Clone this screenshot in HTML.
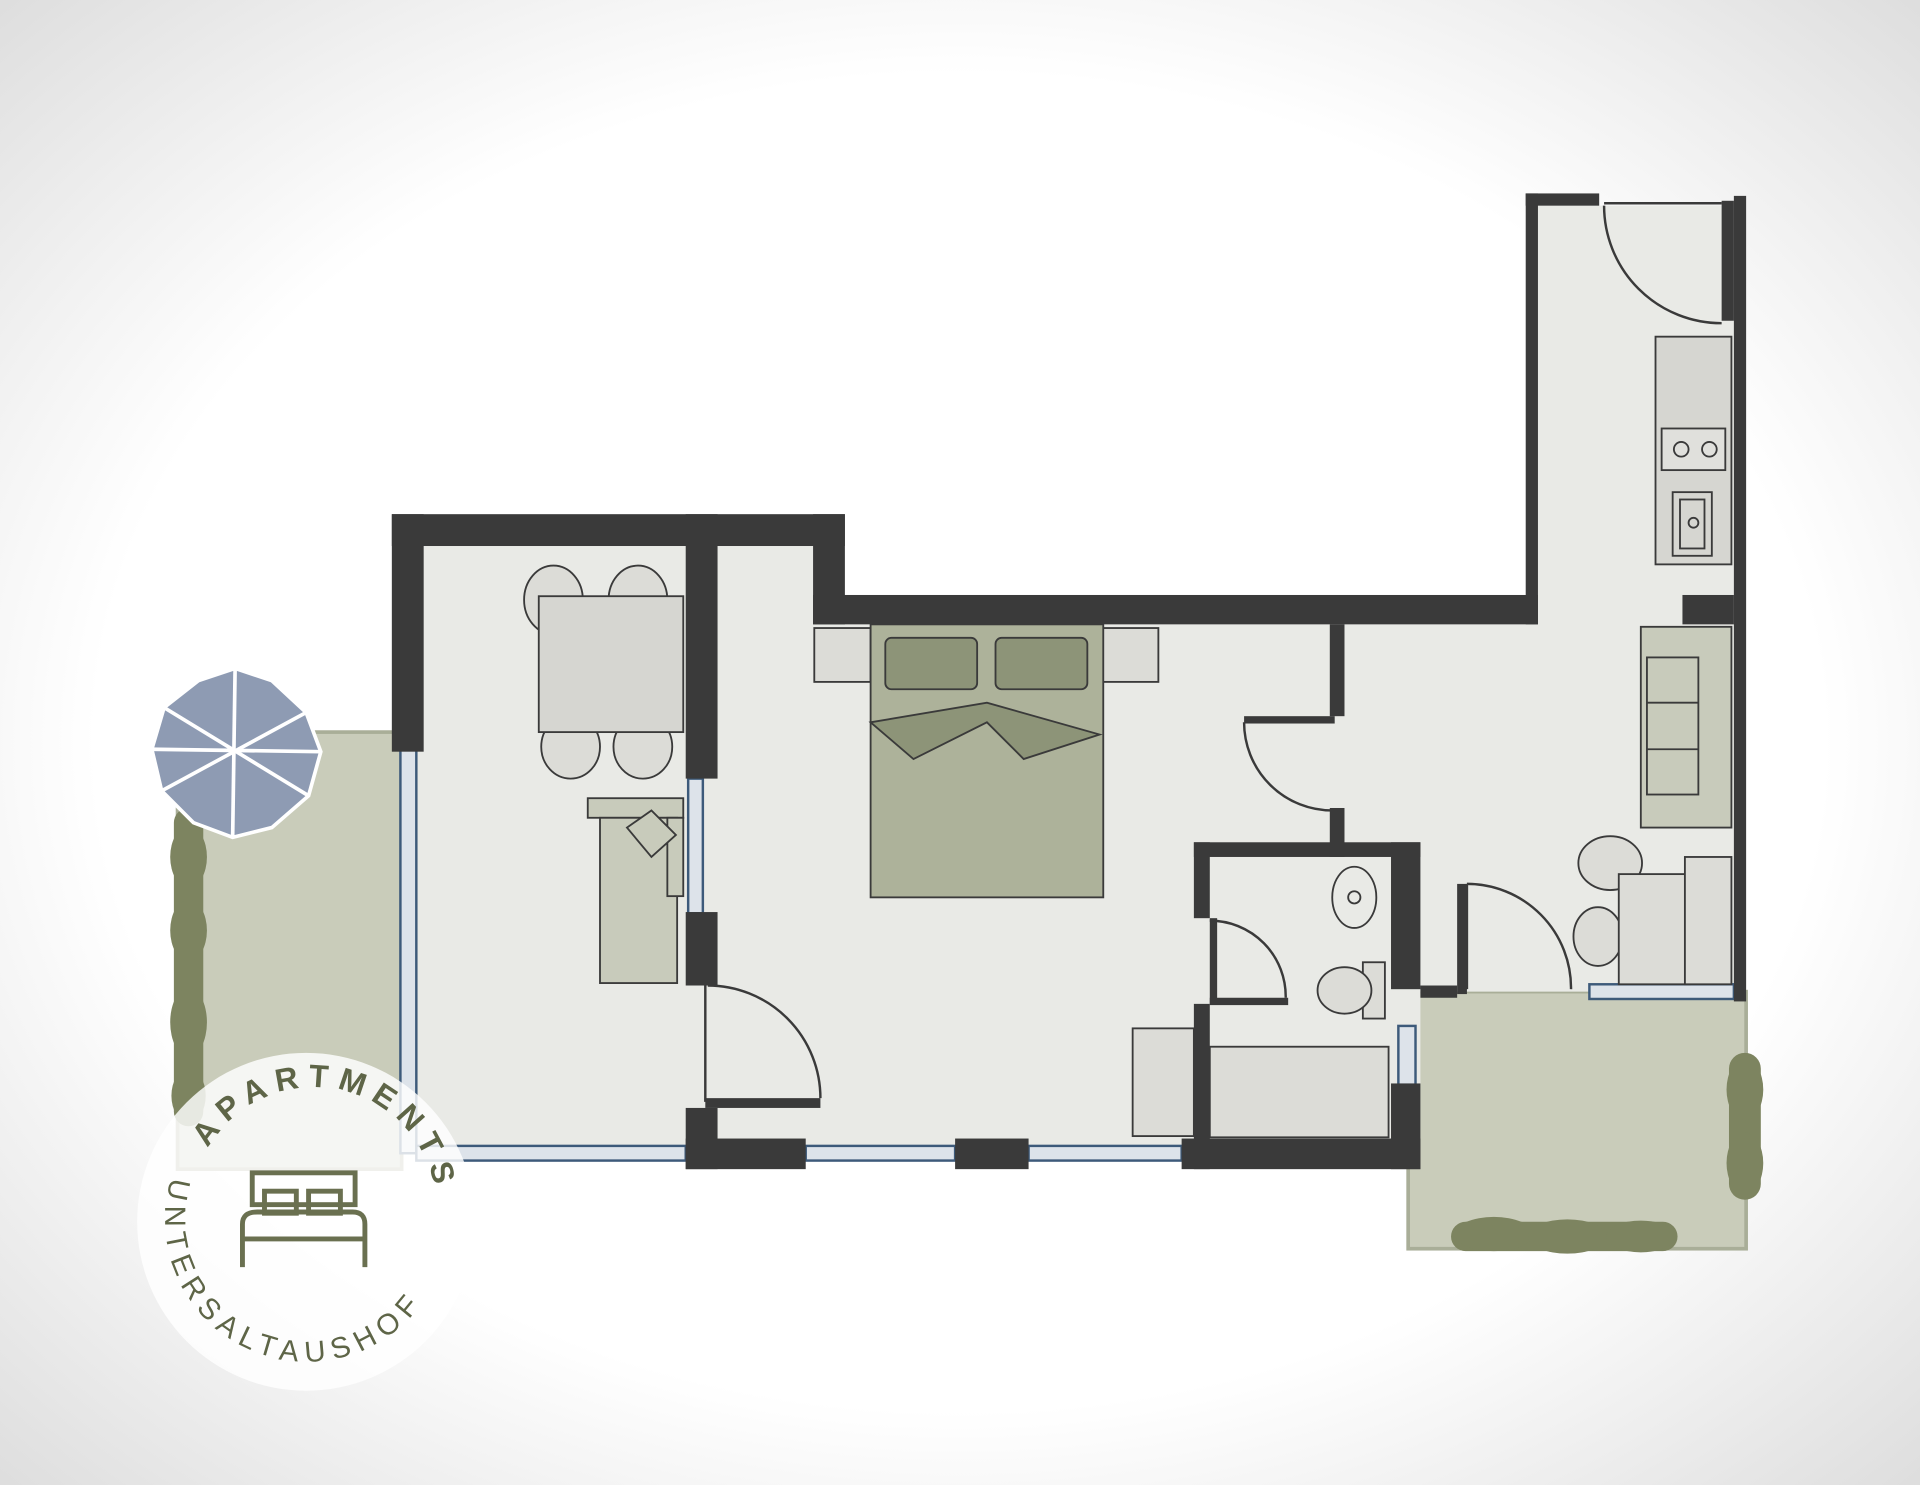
<!DOCTYPE html>
<html><head><meta charset="utf-8"><style>html,body{margin:0;padding:0;width:1920px;height:1485px;overflow:hidden;background:#fff}</style></head>
<body>
<svg width="1920" height="1485" viewBox="0 0 1568 1213" preserveAspectRatio="none" xmlns="http://www.w3.org/2000/svg" font-family="Liberation Sans, sans-serif">
<defs>
<radialGradient id="bg" cx="50%" cy="50%" r="75%">
<stop offset="0.6" stop-color="#ffffff"/><stop offset="1" stop-color="#d8d8d8"/>
</radialGradient>
<path id="arcTop" d="M170,938 A100,100 0 0 1 352,1018"/>
<path id="arcBot" d="M140,962 A116,116 0 0 0 345,1064"/>
</defs>
<rect width="1568" height="1213" fill="url(#bg)"/>
<!-- balconies -->
<rect x="145" y="598" width="183" height="357" fill="#c9ccba" stroke="#a9ae98" stroke-width="3"/>
<rect x="1150" y="810" width="276" height="210" fill="#c9ccba" stroke="#a9ae98" stroke-width="3"/>
<!-- floor -->
<polygon points="340,446 664,446 664,510 1256,510 1256,168 1416,168 1416,810 1160,810 1160,935 340,935" fill="#e9eae6"/>
<!-- windows -->
<g fill="#dde3ea" stroke="#3d5a7a" stroke-width="2">
<rect x="327" y="612" width="13" height="330"/>
<rect x="340" y="936" width="220" height="12"/>
<rect x="658" y="936" width="122" height="12"/>
<rect x="840" y="936" width="125" height="12"/>
<rect x="562" y="636" width="12" height="110"/>
<rect x="1142" y="838" width="14" height="48"/>
<rect x="1298" y="804" width="118" height="12"/>
</g>
<!-- walls -->
<g fill="#3a3a3a">
<rect x="320" y="420" width="370" height="26"/>
<rect x="320" y="420" width="26" height="194"/>
<rect x="560" y="420" width="26" height="216"/>
<rect x="560" y="745" width="26" height="60"/>
<rect x="560" y="905" width="26" height="50"/>
<rect x="560" y="930" width="98" height="25"/>
<rect x="664" y="420" width="26" height="90"/>
<rect x="664" y="486" width="592" height="24"/>
<rect x="1246" y="158" width="10" height="352"/>
<rect x="1246" y="158" width="60" height="10"/>
<rect x="1416" y="160" width="10" height="658"/>
<rect x="1406" y="164" width="10" height="98"/>
<rect x="1374" y="486" width="42" height="24"/>
<rect x="780" y="930" width="60" height="25"/>
<rect x="965" y="930" width="195" height="25"/>
<rect x="1086" y="510" width="12" height="75"/>
<rect x="1086" y="660" width="12" height="40"/>
<rect x="975" y="688" width="185" height="12"/>
<rect x="975" y="688" width="13" height="62"/>
<rect x="975" y="820" width="13" height="135"/>
<rect x="1136" y="688" width="24" height="120"/>
<rect x="1136" y="885" width="24" height="70"/>
<rect x="1160" y="805" width="30" height="10"/>
<rect x="1190" y="722" width="8" height="90"/>
<rect x="988" y="815" width="64" height="6"/>
<rect x="988" y="750" width="6" height="70"/>
<rect x="576" y="897" width="94" height="8"/>
<rect x="1016" y="585" width="74" height="6"/>
</g>
<!-- doors -->
<g fill="none" stroke="#3a3a3a" stroke-width="2">
<path d="M578,805 A92,92 0 0 1 670,897"/><line x1="576" y1="805" x2="576" y2="900"/>
<path d="M1016,590 A72,72 0 0 0 1088,662"/>
<path d="M988,752 A62,62 0 0 1 1050,815"/>
<path d="M1198,722 A85,85 0 0 1 1283,808"/><line x1="1198" y1="722" x2="1198" y2="808"/>
<path d="M1310,168 A96,96 0 0 0 1406,264"/><line x1="1310" y1="166" x2="1406" y2="166"/>
</g>
<!-- kitchen -->
<g stroke="#3a3a3a" stroke-width="1.5" fill="#d6d6d1">
<rect x="1352" y="275" width="62" height="186"/>
<rect x="1357" y="350" width="52" height="34" fill="#e0e0dc"/>
<circle cx="1373" cy="367" r="6" fill="none"/><circle cx="1396" cy="367" r="6" fill="none"/>
<rect x="1366" y="402" width="32" height="52"/><rect x="1372" y="408" width="20" height="40"/>
<circle cx="1383" cy="427" r="4" fill="none"/>
</g>
<!-- dining -->
<g stroke="#3a3a3a" stroke-width="1.5" fill="#dcdcd7">
<ellipse cx="452" cy="490" rx="24" ry="28"/><ellipse cx="521" cy="490" rx="24" ry="28"/>
<ellipse cx="466" cy="610" rx="24" ry="26"/><ellipse cx="525" cy="610" rx="24" ry="26"/>
<rect x="440" y="487" width="118" height="111" fill="#d6d6d1"/>
<rect x="480" y="652" width="78" height="16" fill="#c8cbbb"/>
<rect x="490" y="668" width="63" height="135" fill="#c8cbbb"/>
<rect x="545" y="668" width="13" height="64" fill="#c8cbbb"/>
<polygon points="512,676 532,662 552,682 532,700" fill="#c8cbbb"/>
</g>
<!-- bed -->
<g stroke="#3a3a3a" stroke-width="1.5">
<rect x="665" y="513" width="46" height="44" fill="#dcdcd7"/><rect x="900" y="513" width="46" height="44" fill="#dcdcd7"/>
<rect x="711" y="510" width="190" height="223" fill="#adb29a"/>
<rect x="723" y="521" width="75" height="42" rx="5" fill="#8d9478"/>
<rect x="813" y="521" width="75" height="42" rx="5" fill="#8d9478"/>
<polygon points="711,590 806,574 898,600 836,620 806,590 746,620" fill="#8d9478"/>
</g>
<!-- bathroom -->
<g stroke="#3a3a3a" stroke-width="1.5" fill="#dcdcd7">
<ellipse cx="1106" cy="733" rx="18" ry="25" fill="none"/><circle cx="1106" cy="733" r="5" fill="none"/>
<rect x="1113" y="786" width="18" height="46"/>
<ellipse cx="1098" cy="809" rx="22" ry="19"/>
<rect x="988" y="855" width="146" height="74"/>
<rect x="925" y="840" width="50" height="88"/>
</g>
<!-- living -->
<g stroke="#3a3a3a" stroke-width="1.5" fill="#c8cbbb">
<rect x="1340" y="512" width="74" height="164"/>
<rect x="1345" y="537" width="42" height="112"/>
<line x1="1345" y1="574" x2="1387" y2="574"/><line x1="1345" y1="612" x2="1387" y2="612"/>
<ellipse cx="1315" cy="705" rx="26" ry="22" fill="#dcdcd7"/>
<ellipse cx="1305" cy="765" rx="20" ry="24" fill="#dcdcd7"/>
<rect x="1322" y="714" width="58" height="90" fill="#dcdcd7"/>
<rect x="1376" y="700" width="38" height="104" fill="#dcdcd7"/>
</g>
<!-- plants -->
<g fill="#7d8460">
<rect x="142" y="660" width="24" height="260" rx="12"/>
<ellipse cx="154" cy="700" rx="15" ry="25"/><ellipse cx="154" cy="760" rx="15" ry="25"/><ellipse cx="154" cy="835" rx="15" ry="28"/><ellipse cx="154" cy="895" rx="14" ry="22"/>
<rect x="1412" y="860" width="26" height="120" rx="13"/>
<ellipse cx="1425" cy="890" rx="15" ry="25"/><ellipse cx="1425" cy="950" rx="15" ry="25"/>
<rect x="1185" y="998" width="185" height="24" rx="12"/>
<ellipse cx="1220" cy="1008" rx="32" ry="14"/><ellipse cx="1280" cy="1010" rx="32" ry="14"/><ellipse cx="1340" cy="1010" rx="28" ry="13"/>
</g>
<!-- umbrella -->
<g stroke="#fff" stroke-width="3">
<polygon points="192,546 222,556 250,582 262,614 252,650 222,676 190,684 158,672 132,646 124,612 134,578 162,556" fill="#8e9bb3"/>
<line x1="192" y1="546" x2="190" y2="684"/><line x1="124" y1="612" x2="262" y2="614"/>
<line x1="134" y1="578" x2="252" y2="650"/><line x1="250" y1="582" x2="132" y2="646"/>
</g>
<!-- logo -->
<circle cx="250" cy="998" r="138" fill="#ffffff" fill-opacity="0.82"/>
<g fill="none" stroke="#6a7050" stroke-width="4">
<rect x="206" y="958" width="84" height="26"/>
<rect x="216" y="973" width="26" height="18"/><rect x="252" y="973" width="26" height="18"/>
<path d="M198,1035 V1000 Q198,990 210,990 H288 Q298,990 298,1000 V1035"/>
<line x1="198" y1="1012" x2="298" y2="1012"/>
</g>
<text font-size="26" font-weight="bold" fill="#5e6547" letter-spacing="7"><textPath href="#arcTop">APARTMENTS</textPath></text>
<text font-size="24" fill="#5e6547" letter-spacing="6"><textPath href="#arcBot">UNTERSALTAUSHOF</textPath></text>
</svg>
</body></html>
